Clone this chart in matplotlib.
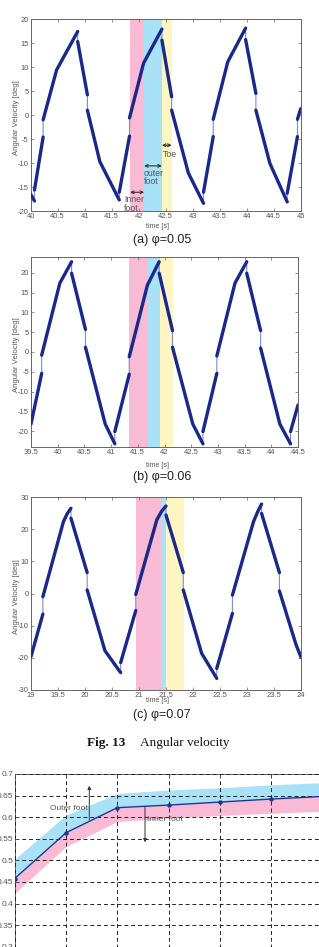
import matplotlib
matplotlib.use("Agg")
import matplotlib.pyplot as plt
import numpy as np

plt.rcParams['font.family'] = ['Liberation Sans', 'DejaVu Sans']
plt.rcParams['axes.unicode_minus'] = False

W, H = 319, 947

# ---------------- data: panel (a) phi=0.05 ----------------
a_seg_t = [[40.00, 40.07], [40.07, 40.23], [40.23, 40.48, 40.87], [40.87, 41.05],
           [41.05, 41.28, 41.64], [41.64, 41.83], [41.83, 42.09, 42.43], [42.43, 42.61],
           [42.61, 42.92, 43.20], [43.20, 43.38], [43.38, 43.65, 43.98], [43.98, 44.17],
           [44.17, 44.43, 44.75], [44.75, 44.94], [44.94, 45.00]]
a_seg_v = [[-16.5, -17.9], [-15.6, -4.6], [-1.0, 9.4, 17.4], [15.3, 4.2],
           [1.0, -9.7, -17.7], [-16.1, -4.4], [-0.6, 10.8, 17.9], [15.6, 3.8],
           [1.0, -12.1, -18.4], [-16.1, -4.5], [-0.9, 11.1, 18.1], [15.7, 4.5],
           [1.0, -10.1, -18.1], [-16.3, -4.5], [-0.9, 1.3]]
a_phase = [41.84, 42.10, 42.43, 42.61]

# ---------------- data: panel (b) phi=0.06 ----------------
b_seg_t = [[39.50, 39.70], [39.70, 40.04, 40.26], [40.26, 40.52], [40.52, 40.89, 41.07],
           [41.07, 41.34], [41.34, 41.68, 41.90], [41.90, 42.15], [42.15, 42.53, 42.72],
           [42.72, 42.98], [42.98, 43.32, 43.54], [43.54, 43.80], [43.80, 44.16, 44.36],
           [44.36, 44.50]]
b_seg_v = [[-18.2, -5.4], [-0.8, 17.4, 22.8], [19.9, 5.7], [1.2, -18.2, -23.2],
           [-20.1, -5.6], [-1.2, 16.9, 22.8], [19.9, 5.4], [1.2, -18.2, -23.2],
           [-20.1, -5.4], [-1.0, 17.4, 22.8], [19.9, 5.4], [1.0, -18.2, -23.2],
           [-20.1, -13.4]]
b_phase = [41.34, 41.69, 41.92, 42.15]

# ---------------- data: panel (c) phi=0.07 ----------------
c_seg_t = [[19.00, 19.22], [19.22, 19.60, 19.67, 19.74], [19.74, 20.04], [20.04, 20.37, 20.66],
           [20.66, 20.94], [20.94, 21.33, 21.42, 21.50], [21.50, 21.82], [21.82, 22.16, 22.44],
           [22.44, 22.73], [22.73, 23.12, 23.20, 23.27], [23.27, 23.60], [23.60, 23.91, 24.00]]
c_seg_v = [[-19.6, -6.4], [-1.0, 22.3, 24.8, 26.5], [23.4, 6.5], [1.1, -17.8, -24.6],
           [-21.5, -5.3], [-0.3, 22.9, 25.6, 27.2], [24.4, 6.5], [1.1, -18.6, -26.4],
           [-23.3, -6.2], [-0.5, 22.3, 25.5, 27.8], [24.9, 6.5], [0.8, -16.0, -19.8]]
c_phase = [20.94, 21.41, 21.50, 21.83]

# ---------------- data: bottom panel ----------------
d_x = [1, 2, 3, 4, 5, 6, 7]
d_mid = [0.458, 0.564, 0.622, 0.628, 0.635, 0.642, 0.648]
d_upper = [0.503, 0.605, 0.655, 0.663, 0.668, 0.675, 0.680]
d_lower = [0.424, 0.532, 0.590, 0.598, 0.604, 0.609, 0.614]
d_yticks = [0.3, 0.35, 0.4, 0.45, 0.5, 0.55, 0.6, 0.65, 0.7]

NAVY = '#1a288a'
THIN = '#7d8cc4'
PINK = '#f9bad6'
CYAN = '#a9e1f6'
YELL = '#fdf6c3'
GREY = '#555555'

fig = plt.figure(figsize=(W / 100, H / 100), dpi=100)


def fy(px):
    return 1 - px / H


def add_ax(l, r, t, b):
    return fig.add_axes([l / W, 1 - b / H, (r - l) / W, (b - t) / H])


def style(ax, fs=5.5):
    for s in ax.spines.values():
        s.set_color('#666666')
        s.set_linewidth(0.7)
    ax.tick_params(direction='in', length=2, width=0.5, colors='#666666',
                   labelcolor=GREY, labelsize=fs, top=True, right=True, pad=1.5)


def wave_panel(ax, seg_t, seg_v, phase, xlim, ylim, xticks, yticks):
    allt = np.concatenate([np.array(s) for s in seg_t])
    allv = np.concatenate([np.array(s) for s in seg_v])
    ax.axvspan(phase[0], phase[1], color=PINK, lw=0, zorder=0)
    ax.axvspan(phase[1], phase[2], color=CYAN, lw=0, zorder=0)
    ax.axvspan(phase[2], phase[3], color=YELL, lw=0, zorder=0)
    ax.plot(allt, allv, color=THIN, lw=0.8, zorder=2)
    for t, v in zip(seg_t, seg_v):
        ax.plot(t, v, color=NAVY, lw=2.4, solid_capstyle='round', zorder=3)
    ax.set_xlim(*xlim)
    ax.set_ylim(*ylim)
    ax.set_xticks(xticks)
    ax.set_yticks(yticks)
    ax.set_xticklabels(['%g' % x for x in xticks])
    ax.set_yticklabels(['%g' % y for y in yticks])
    style(ax)


# panel (a)
axa = add_ax(30.7, 300.7, 19, 211)
wave_panel(axa, a_seg_t, a_seg_v, a_phase, (40, 45), (-20, 20),
           np.arange(40, 45.01, 0.5), np.arange(-20, 20.1, 5))
arr = dict(arrowstyle='<->', color='#333333', lw=0.8, mutation_scale=5, shrinkA=0, shrinkB=0)
axa.annotate('', xy=(a_phase[2], -6.3), xytext=(a_phase[3], -6.3), arrowprops=arr)
axa.text(a_phase[2] + 0.01, -7.2, 'Toe', fontsize=6.3, color=GREY, ha='left', va='top')
axa.annotate('', xy=(a_phase[1], -10.6), xytext=(a_phase[2], -10.6), arrowprops=arr)
axa.text(a_phase[1] + 0.0, -11.2, 'outer\nfoot', fontsize=6.3, color=GREY, ha='left', va='top',
         linespacing=0.95)
axa.annotate('', xy=(a_phase[0], -16.1), xytext=(a_phase[1], -16.1), arrowprops=arr)
axa.text(a_phase[0] - 0.11, -16.7, 'Inner\nfoot', fontsize=6.3, color=GREY, ha='left', va='top',
         linespacing=0.95)

# panel (b)
axb = add_ax(31, 298, 257, 447)
wave_panel(axb, b_seg_t, b_seg_v, b_phase, (39.5, 44.5), (-24, 24),
           np.arange(39.5, 44.51, 0.5), np.arange(-20, 20.1, 5))

# panel (c)
axc = add_ax(31, 301, 497, 690)
wave_panel(axc, c_seg_t, c_seg_v, c_phase, (19, 24), (-30, 30),
           np.arange(19, 24.01, 0.5), np.arange(-30, 30.1, 10))

# axis labels and captions
for (ytop, ybot, ylab, ycap, cap) in [(19, 211, 226.5, 240, '(a) φ=0.05'),
                                       (257, 447, 465, 476.5, '(b) φ=0.06'),
                                       (497, 690, 701, 715, '(c) φ=0.07')]:
    fig.text(158 / W, fy(ylab), 'time [s]', fontsize=5, color=GREY, ha='center', va='center')
    fig.text(16.5 / W, fy((ytop + ybot) / 2 + 3), 'Angular Velocity [deg]', fontsize=5.5,
             color=GREY, rotation=90, ha='center', va='center')
    fig.text(162 / W, fy(ycap), cap, fontsize=9, color='#222222', ha='center', va='center',
             family=['Liberation Sans', 'DejaVu Sans'])

fig.text(87 / W, fy(743), 'Fig. 13', fontsize=9.5, weight='bold', family='Liberation Serif',
         ha='left', va='center', color='#111111')
fig.text(140 / W, fy(743), 'Angular velocity', fontsize=9.5, family='Liberation Serif',
         ha='left', va='center', color='#111111')

# bottom panel
step = 51.3
axd = add_ax(14.7, 14.7 + 6 * step, 774, 774 + 0.45 / 0.05 * 21.6)
axd.fill_between(d_x, d_mid, d_upper, color=CYAN, lw=0, zorder=1)
axd.fill_between(d_x, d_lower, d_mid, color=PINK, lw=0, zorder=1)
axd.plot(d_x, d_mid, color='#1f3590', lw=1.0, marker='o', ms=2.2, zorder=4)
axd.set_xlim(1, 7)
axd.set_ylim(0.25, 0.7)
axd.set_xticks(d_x)
axd.set_xticklabels([])
axd.set_yticks(d_yticks)
axd.set_yticklabels(['%g' % y for y in d_yticks])
axd.grid(True, color='#222222', ls=(0, (4, 3)), lw=0.7, zorder=2)
axd.set_axisbelow(False)
style(axd, fs=6)
axd.tick_params(pad=1)
arr2 = dict(arrowstyle='-|>', color='#333333', lw=0.7, mutation_scale=5, shrinkA=0, shrinkB=0)
axd.annotate('', xy=(89.3 / W, fy(785.7)), xytext=(89.3 / W, fy(820)),
             xycoords='figure fraction', textcoords='figure fraction', arrowprops=arr2, zorder=5)
axd.annotate('', xy=(145 / W, fy(842.3)), xytext=(145 / W, fy(806.7)),
             xycoords='figure fraction', textcoords='figure fraction', arrowprops=arr2, zorder=5)
fig.text(68.5 / W, fy(808.3), 'Outer foot', fontsize=6, color=GREY, ha='center', va='center', zorder=6)
fig.text(165 / W, fy(819.3), 'Inner foot', fontsize=6, color=GREY, ha='center', va='center', zorder=6)

fig.savefig('out.png', dpi=100)
